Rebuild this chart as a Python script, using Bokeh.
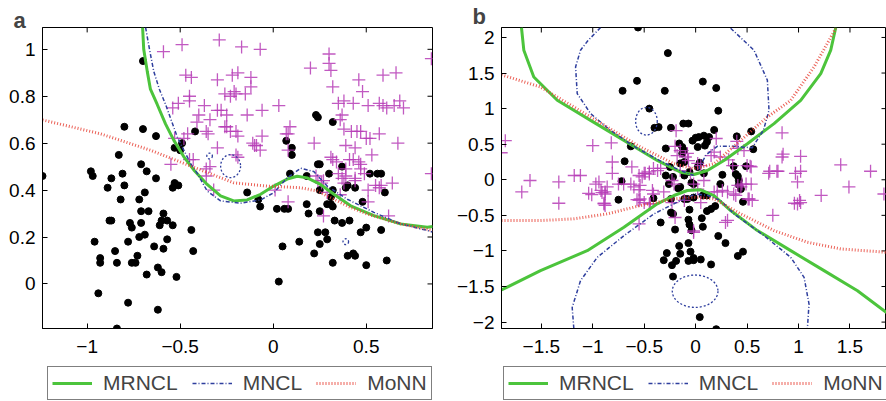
from bokeh.plotting import figure
from bokeh.models import Range1d, FixedTicker, Legend, LegendItem
from bokeh.layouts import row, column
from bokeh.embed import file_html
from bokeh.resources import INLINE

FONT = "Liberation Sans"
GREEN = "#4cc43c"
BLUE = "#2f3f9e"
RED = "#e8453a"
MAG = "#b63cb6"

# ---------------- panel a data ----------------
A_XR = (-1.24, 0.856)
A_YR = (-0.19, 1.093)
A_XTICKS = [-1, -0.5, 0, 0.5]
A_XLABELS = ["−1", "−0.5", "0", "0.5"]
A_YTICKS = [0, 0.2, 0.4, 0.6, 0.8, 1]
A_YLABELS = ["0", "0.2", "0.4", "0.6", "0.8", "1"]

A_DOT_X = [-0.80, -0.70, -0.63, -0.83, -0.71, -0.98, -0.97, -0.87, -0.81, -0.68, -0.63, -0.89, -0.80, -0.53, -0.54,
           -0.51, -0.69, -0.82, -0.72, -0.71, -0.67, -0.59, -0.88, -0.87, -0.77, -0.76, -0.71, -0.61, -0.60, -0.57,
           -0.54, -0.44, -0.72, -0.69, -0.96, -0.78, -0.57, -0.85, -0.64, -0.59, -0.43, -0.93, -0.93, -0.84, -0.76,
           -0.74, -0.73, -0.62, -0.60, -0.68, -0.52, -0.94, -0.78, -0.62, -0.84, -1.24, -0.49, -0.53, -0.50, -0.42,
           -0.70, 0.23, 0.24, 0.32, 0.07, 0.10, 0.10, 0.24, 0.25, 0.30, 0.37, 0.52, 0.56, 0.58, -0.14, 0.09, 0.18,
           0.40, 0.39, 0.44, 0.25, 0.32, 0.31, 0.29, 0.31, 0.32, 0.48, 0.60, -0.08, -0.07, 0.02, 0.06, 0.08, 0.18,
           0.19, 0.25, 0.33, 0.37, 0.41, 0.24, 0.28, 0.29, 0.47, 0.50, 0.58, 0.14, 0.05, 0.25, 0.22, 0.43, 0.44,
           0.40, 0.32, 0.50, 0.61, 0.03]
A_DOT_Y = [0.67, 0.66, 0.63, 0.55, 0.51, 0.48, 0.46, 0.45, 0.47, 0.48, 0.45, 0.41, 0.42, 0.43, 0.41,
           0.42, 0.39, 0.36, 0.36, 0.31, 0.31, 0.30, 0.27, 0.27, 0.26, 0.24, 0.26, 0.25, 0.27, 0.27,
           0.25, 0.23, 0.20, 0.21, 0.18, 0.18, 0.19, 0.14, 0.16, 0.15, 0.14, 0.11, 0.09, 0.09, 0.09,
           0.09, 0.12, 0.07, 0.05, 0.04, 0.03, -0.04, -0.08, -0.11, -0.19, 0.46, 0.60, 0.58, 0.57, 0.65,
           0.95, 0.72, 0.71, 0.69, 0.61, 0.58, 0.55, 0.51, 0.51, 0.47, 0.50, 0.47, 0.47, 0.47, 0.39, 0.47, 0.46,
           0.42, 0.41, 0.41, 0.40, 0.40, 0.37, 0.34, 0.34, 0.33, 0.35, 0.39, 0.36, 0.33, 0.32, 0.32, 0.32, 0.34,
           0.30, 0.31, 0.27, 0.26, 0.27, 0.22, 0.22, 0.19, 0.22, 0.24, 0.23, 0.18, 0.16, 0.17, 0.13, 0.13, 0.12,
           0.12, 0.09, 0.08, 0.10, 0.01]

A_PLUS_X = [-0.29, -0.49, -0.59, -0.17, -0.07, 0.30, 0.30, 0.31, 0.20, 0.32, 0.46, 0.48, 0.59, 0.66, 0.85,
            -0.47, -0.44, -0.30, -0.22, -0.19, -0.12, -0.12, -0.45, -0.45, -0.21, -0.26, -0.23, -0.20, -0.15,
            -0.51, -0.54, -0.37, -0.30, -0.28, -0.40, -0.25, -0.34, -0.14, -0.06, 0.03, 0.35, 0.38, 0.43, 0.51,
            0.57, 0.59, 0.61, 0.65, 0.68, 0.70, 0.37, 0.36, -0.41, -0.26, -0.25, 0.09, -0.46, -0.48, -0.53, -0.36,
            -0.35, -0.23, -0.20, -0.19, -0.06, 0.08, 0.38, 0.42, 0.45, 0.47, 0.50, 0.52, 0.57, 0.67, 0.22, -0.11,
            -0.10, -0.07, 0.08, -0.30, 0.39, 0.44, 0.53, 0.32, 0.34, 0.41, 0.43, 0.46, -0.20, -0.45, 0.47, 0.47,
            0.39, 0.35, 0.37, 0.44, 0.31, 0.24, 0.26, 0.07, -0.09, -0.19, -0.36, -0.36, -0.55, 0.85, 0.64, 0.58,
            0.55, 0.51, -0.34, -0.43, -0.32, 0.08, 0.01, 0.27, 0.51, 0.62, 0.38, 0.49, 0.29, 0.36, 0.23, 0.27,
            0.39, 0.44, 0.57]
A_PLUS_Y = [1.04, 1.02, 0.99, 1.01, 1.00, 0.98, 0.94, 0.91, 0.92, 0.84, 0.87, 0.82, 0.89, 0.90, 0.96,
            0.89, 0.88, 0.87, 0.89, 0.90, 0.88, 0.84, 0.80, 0.78, 0.82, 0.81, 0.80, 0.81, 0.81,
            0.77, 0.75, 0.76, 0.74, 0.74, 0.72, 0.72, 0.70, 0.72, 0.74, 0.76, 0.77, 0.78, 0.77, 0.76,
            0.77, 0.76, 0.75, 0.76, 0.78, 0.75, 0.72, 0.70, 0.69, 0.67, 0.67, 0.67, 0.64, 0.62, 0.62, 0.65,
            0.64, 0.65, 0.65, 0.63, 0.63, 0.64, 0.66, 0.65, 0.65, 0.65, 0.62, 0.62, 0.64, 0.60, 0.60, 0.60,
            0.59, 0.57, 0.57, 0.58, 0.59, 0.58, 0.55, 0.53, 0.52, 0.53, 0.53, 0.52, 0.55, 0.53, 0.51, 0.49,
            0.49, 0.47, 0.45, 0.45, 0.54, 0.44, 0.43, 0.64, 0.59, 0.54, 0.49, 0.46, 0.51, 0.47, 0.43, 0.42,
            0.42, 0.40, 0.50, 0.53, 0.40, 0.35, 0.40, 0.29, 0.35, 0.29, 0.43, 0.47, 0.39, 0.38, 0.46, 0.44,
            0.46, 0.44, 0.41]

A_MRNCL_X = [-0.702, -0.696, -0.677, -0.660, -0.624, -0.579, -0.534, -0.481, -0.427, -0.355, -0.283, -0.212,
             -0.140, -0.068, 0.003, 0.075, 0.129, 0.183, 0.254, 0.326, 0.416, 0.541, 0.684, 0.828, 0.858]
A_MRNCL_Y = [1.093, 1.000, 0.906, 0.830, 0.766, 0.682, 0.612, 0.543, 0.486, 0.424, 0.375, 0.354,
             0.358, 0.382, 0.417, 0.447, 0.459, 0.452, 0.424, 0.382, 0.333, 0.291, 0.256, 0.242, 0.245]
A_MNCL_X = [-0.686, -0.665, -0.642, -0.612, -0.579, -0.516, -0.445, -0.409, -0.355, -0.283, -0.176, -0.068,
            0.003, 0.075, 0.147, 0.218, 0.290, 0.398, 0.541, 0.684, 0.828, 0.856]
A_MNCL_Y = [1.093, 1.000, 0.906, 0.830, 0.766, 0.627, 0.514, 0.472, 0.396, 0.354, 0.344, 0.358,
            0.389, 0.452, 0.493, 0.479, 0.417, 0.361, 0.305, 0.256, 0.228, 0.221]
A_MONN_X = [-1.24, -0.929, -0.660, -0.391, -0.212, -0.032, 0.147, 0.237, 0.326, 0.416, 0.505, 0.595, 0.684, 0.858]
A_MONN_Y = [0.699, 0.640, 0.570, 0.486, 0.431, 0.417, 0.410, 0.396, 0.361, 0.326, 0.298, 0.277, 0.256, 0.228]
A_LOOP_X = [-0.229, -0.342, 0.390]
A_LOOP_Y = [0.502, 0.545, 0.180]
A_LOOP_W = [0.107, 0.030, 0.030]
A_LOOP_H = [0.098, 0.025, 0.025]

# ---------------- panel b data ----------------
B_XR = (-1.887, 1.855)
B_YR = (-2.09, 2.14)
B_XTICKS = [-1.5, -1, -0.5, 0, 0.5, 1, 1.5]
B_XLABELS = ["−1.5", "−1", "−0.5", "0", "0.5", "1", "1.5"]
B_YTICKS = [-2, -1.5, -1, -0.5, 0, 0.5, 1, 1.5, 2]
B_YLABELS = ["−2", "−1.5", "−1", "−0.5", "0", "0.5", "1", "1.5", "2"]

B_DOT_X = [-0.56, -0.27, -0.57, -0.71, -0.30, 0.07, 0.20, 0.22, -0.45, -0.40, -0.36, -0.24, -0.12, -0.07, 0.18,
           0.54, 0.40, 0.56, -0.63, -0.69, -0.72, -0.75, -0.03, 0.00, 0.03, 0.08, 0.13, 0.11, 0.09, -0.16, -0.13,
           -0.11, 0.02, -0.29, -0.13, -0.11, -0.15, 0.04, 0.02, -0.25, 0.37, 0.49, -0.29, -0.26, -0.22, -0.11,
           -0.06, 0.08, 0.26, 0.41, 0.39, -0.17, -0.15, -0.04, -0.02, 0.24, 0.42, 0.42, 0.44, 0.07, 0.09, 0.11,
           0.19, 0.46, -0.11, -0.08, -0.02, -0.24, -0.41, 0.15, 0.11, -0.06, -0.24, -0.22, -0.34, -0.07, -0.06,
           -0.04, 0.06, 0.07, -0.20, 0.22, 0.29, -0.16, -0.07, -0.28, -0.15, -0.05, -0.31, -0.23, -0.19, -0.07,
           -0.02, -0.02, 0.05, 0.15, 0.41, 0.46, -0.22, 0.04, 0.20]
B_DOT_Y = [2.14, 1.78, 1.39, 1.25, 1.25, 1.38, 1.29, 0.97, 1.00, 0.73, 0.74, 0.73, 0.79, 0.79, 0.70,
           0.68, 0.61, 0.43, 0.47, 0.26, -0.02, -0.28, 0.55, 0.59, 0.60, 0.62, 0.60, 0.53, 0.48, 0.51, 0.46,
           0.41, 0.46, 0.44, 0.37, 0.25, 0.23, 0.24, 0.18, 0.18, 0.19, 0.19, 0.06, -0.06, 0.04, 0.06,
           0.11, 0.09, 0.07, 0.05, 0.08, -0.12, -0.10, -0.04, -0.06, -0.06, -0.07, -0.01, -0.13, -0.22, -0.21, -0.22,
           -0.37, -0.31, -0.27, -0.27, -0.25, -0.27, -0.26, -0.41, -0.44, -0.42, -0.46, -0.48, -0.60, -0.56, -0.63,
           -0.71, -0.54, -0.66, -0.70, -0.79, -0.89, -0.93, -0.89, -1.03, -1.04, -1.01, -1.13, -1.20, -1.14, -1.14,
           -1.13, -1.10, -1.12, -1.19, -1.07, -1.01, -1.36, -1.93, -2.10]

B_PLUS_X = [-0.19, -0.20, 0.20, 0.40, 0.84, 0.85, 0.84, -0.82, -0.81, -0.81, -0.62, -0.55, -0.52, -0.49, -0.45,
            -0.41, -0.75, -0.63, -0.88, -0.89, -0.57, -0.42, -0.41, -0.44, -0.31, -0.23, -0.21, -0.10, -0.07, -0.08,
            -0.15, -0.05, -0.02, 0.02, 0.08, 0.02, 0.05, 0.15, 0.18, 0.24, 0.32, 0.36, 0.18, 0.21, 0.26, 0.31,
            0.37, 0.41, 0.44, 0.49, 0.52, 0.55, 0.31, 0.75, -0.02, -0.20, -0.23, 0.71, 0.79, 0.97, 0.99, 0.96,
            0.99, 0.54, 0.39, 0.05, -0.55, -0.54, 1.02, 0.54, 0.72, 0.80, 1.02, 1.41, 1.70, 1.49, 1.22, 1.02,
            0.45, 0.51, 1.83, -1.85, -1.89, -1.00, 0.50, -1.69, -1.61, -1.33, -1.18, -1.12, -0.97, -0.94, -1.04,
            -1.01, -0.91, -0.88, -0.70, -0.60, -0.54, -0.50, -0.45, -0.37, -0.34, -0.18, -0.15, 0.41, 0.47, 0.53,
            -1.33, -0.89, -0.88, -0.92, -0.86, -0.55, -0.50, -0.45, -0.55, -0.02, -0.11, 0.29, 1.01]
B_PLUS_Y = [0.69, 0.47, 0.58, 0.54, 0.66, 0.36, 0.32, 0.52, 0.25, 0.09, 0.18, 0.06, 0.04, 0.09, 0.11,
            0.16, -0.06, -0.06, -0.17, -0.33, -0.28, -0.15, -0.20, -0.34, -0.17, -0.01, -0.06, 0.32, 0.27, 0.37,
            0.13, 0.09, -0.06, -0.13, -0.01, 0.23, 0.20, 0.34, 0.39, 0.32, 0.28, 0.20, -0.17, -0.17, -0.15, -0.17,
            -0.20, -0.08, -0.10, -0.06, -0.27, -0.29, -0.57, -0.50, -0.72, -0.53, -0.32, 0.09, 0.12, 0.09, -0.03, -0.33,
            -0.34, -0.06, -0.22, -0.32, -0.14, -0.27, 0.33, 0.18, 0.12, 0.12, 0.12, 0.21, 0.12, -0.10, -0.22, -0.32,
            -0.06, -0.27, -0.20, 0.55, 0.38, 0.48, 0.20, -0.17, -0.01, -0.03, 0.06, 0.06, -0.06, -0.03, -0.19,
            -0.21, -0.18, -0.20, -0.06, -0.10, -0.08, 0.09, 0.08, 0.13, 0.16, 0.34, 0.41, 0.44, 0.41, 0.19,
            -0.33, -0.34, -0.36, -0.15, -0.10, -0.29, -0.32, -0.34, -0.62, -0.74, -0.29, -0.60, -0.29]

B_MRNCL_UP_X = [-1.693, -1.670, -1.573, -1.345, -1.021, -0.697, -0.373, -0.146, -0.016, 0.114, 0.275, 0.503,
                0.762, 1.021, 1.216, 1.313, 1.362]
B_MRNCL_UP_Y = [2.14, 1.821, 1.445, 1.117, 0.835, 0.554, 0.272, 0.107, 0.075, 0.131, 0.272, 0.507,
                0.789, 1.117, 1.493, 1.821, 2.14]
B_MRNCL_LO_X = [-1.887, -1.508, -1.054, -0.697, -0.373, -0.211, -0.081, 0.049, 0.178, 0.340, 0.600, 0.924,
                1.248, 1.573, 1.855]
B_MRNCL_LO_Y = [-1.549, -1.277, -0.996, -0.668, -0.338, -0.221, -0.151, -0.141, -0.221, -0.432, -0.714, -0.996,
                -1.277, -1.559, -1.865]
B_MNCL_TL_X = [-0.924, -1.05, -1.119, -1.167, -1.151, -1.021, -0.85, -0.60, -0.35, -0.15, -0.02]
B_MNCL_TL_Y = [2.14, 1.95, 1.821, 1.586, 1.211, 0.93, 0.72, 0.47, 0.27, 0.13, 0.06]
B_MNCL_TR_X = [0.34, 0.567, 0.697, 0.713, 0.66, 0.55, 0.37, 0.21, 0.10, 0.03]
B_MNCL_TR_Y = [2.13, 1.821, 1.40, 0.976, 0.70, 0.45, 0.47, 0.47, 0.35, 0.15]
B_MNCL_LO_X = [-1.184, -1.20, -1.119, -0.956, -0.697, -0.405, -0.211, -0.08, 0.0, 0.12, 0.243, 0.373, 0.665,
               0.924, 1.054, 1.102, 1.086]
B_MNCL_LO_Y = [-2.09, -1.794, -1.418, -1.09, -0.785, -0.479, -0.338, -0.25, -0.20, -0.22, -0.292, -0.479, -0.785,
               -1.09, -1.372, -1.746, -2.09]
B_LOOP_X = [-0.005, -0.478]
B_LOOP_Y = [-1.566, 0.823]
B_LOOP_W = [0.444, 0.21]
B_LOOP_H = [0.455, 0.39]
B_MONN_UP_X = [-1.887, -1.508, -1.184, -0.859, -0.535, -0.211, -0.016, 0.178, 0.438, 0.697, 0.924, 1.151, 1.362]
B_MONN_UP_Y = [1.475, 1.304, 1.023, 0.741, 0.459, 0.225, 0.155, 0.225, 0.554, 0.882, 1.117, 1.586, 2.127]
B_MONN_LO_X = [-1.887, -1.508, -1.184, -0.859, -0.535, -0.211, -0.016, 0.178, 0.438, 0.762, 1.086, 1.411, 1.855]
B_MONN_LO_Y = [-0.573, -0.573, -0.549, -0.479, -0.362, -0.268, -0.245, -0.268, -0.479, -0.714, -0.878, -0.972,
               -1.019]

LEGEND_LABELS = ["MRNCL", "MNCL", "MoNN"]

TICK_PX = 5  # inward tick length
MAIN_H = 366
LEG_H = 35


def style(p, xr, yr, fw, fh, xticks, xlabels, yticks, ylabels, title_standoff):
    p.grid.visible = False
    p.outline_line_color = "black"
    p.outline_line_width = 1
    p.xaxis.ticker = FixedTicker(ticks=xticks)
    p.yaxis.ticker = FixedTicker(ticks=yticks)
    p.xaxis.major_label_overrides = {t: l for t, l in zip(xticks, xlabels)}
    p.yaxis.major_label_overrides = {t: l for t, l in zip(yticks, ylabels)}
    for ax in p.axis:
        ax.major_tick_in = TICK_PX
        ax.major_tick_out = 0
        ax.minor_tick_in = 0
        ax.minor_tick_out = 0
        ax.axis_line_color = "black"
        ax.major_tick_line_color = "black"
        ax.major_label_text_font = FONT
        ax.major_label_text_font_size = "19px"
        ax.major_label_text_color = "black"
        ax.major_label_standoff = 7
    p.xaxis.major_label_standoff = 11
    # mirrored inward ticks on the top and right edges of the box
    dy = TICK_PX * (yr[1] - yr[0]) / fh
    dx = TICK_PX * (xr[1] - xr[0]) / fw
    p.segment(x0=xticks, y0=[yr[1]] * len(xticks), x1=xticks, y1=[yr[1] - dy] * len(xticks),
              line_color="black", line_width=1)
    p.segment(x0=[xr[1]] * len(yticks), y0=yticks, x1=[xr[1] - dx] * len(yticks), y1=yticks,
              line_color="black", line_width=1)
    p.title.text_font = FONT
    p.title.text_font_style = "bold"
    p.title.text_font_size = "22px"
    p.title.align = "left"
    p.title.offset = -29
    p.title.standoff = title_standoff


def legend_fig(width, loc):
    lf = figure(width=width, height=LEG_H, x_range=Range1d(0, 1), y_range=Range1d(0, 1),
                x_axis_type=None, y_axis_type=None, output_backend="svg", toolbar_location=None,
                min_border=0, outline_line_color=None)
    lf.grid.visible = False
    # sample renderers for the legend only: their points lie outside the visible range
    g = lf.line([2, 3], [2, 3], line_color=GREEN, line_width=3)
    b = lf.line([2, 3], [2, 3], line_color=BLUE, line_width=1.5, line_dash="4 2 1 2")
    r = lf.line([2, 3], [2, 3], line_color=RED, line_width=3, line_dash="1 2", line_alpha=0.85)
    items = [LegendItem(label=l, renderers=[rr]) for l, rr in zip(LEGEND_LABELS, [g, b, r])]
    lg = Legend(items=items, orientation="horizontal", location=loc)
    lg.label_text_font = FONT
    lg.label_text_font_size = "21px"
    lg.border_line_color = "black"
    lg.border_line_width = 1
    lg.padding = 4
    lg.margin = 0
    lg.spacing = 14
    lg.glyph_width = 40
    lg.label_standoff = 11
    lg.background_fill_alpha = 1
    lf.add_layout(lg)
    return lf


# ---------------- panel a ----------------
pa = figure(width=448, height=MAIN_H, x_range=Range1d(*A_XR), y_range=Range1d(*A_YR), title="a",
            output_backend="svg", toolbar_location=None,
            min_border_left=42, min_border_right=16, min_border_top=22, min_border_bottom=38)
style(pa, A_XR, A_YR, 390, 306, A_XTICKS, A_XLABELS, A_YTICKS, A_YLABELS, -10)
pa.scatter(A_DOT_X, A_DOT_Y, marker="circle", size=7, color="black")
pa.scatter(A_PLUS_X, A_PLUS_Y, marker="cross", size=13, line_color=MAG, line_alpha=0.85, line_width=1.3)
pa.line(A_MRNCL_X, A_MRNCL_Y, line_color=GREEN, line_width=3)
pa.line(A_MNCL_X, A_MNCL_Y, line_color=BLUE, line_width=1.5, line_dash="4 2 1 2")
pa.ellipse(x=A_LOOP_X, y=A_LOOP_Y, width=A_LOOP_W, height=A_LOOP_H, fill_alpha=0,
           line_color=BLUE, line_width=1.3, line_dash="2 2")
pa.line(A_MONN_X, A_MONN_Y, line_color=RED, line_width=3, line_dash="1 2", line_alpha=0.85)

# ---------------- panel b ----------------
pb = figure(width=438, height=MAIN_H, x_range=Range1d(*B_XR), y_range=Range1d(*B_YR), title="b",
            output_backend="svg", toolbar_location=None,
            min_border_left=53, min_border_right=0, min_border_top=27, min_border_bottom=38)
style(pb, B_XR, B_YR, 385, 301, B_XTICKS, B_XLABELS, B_YTICKS, B_YLABELS, -3)
pb.scatter(B_DOT_X, B_DOT_Y, marker="circle", size=7, color="black")
pb.scatter(B_PLUS_X, B_PLUS_Y, marker="cross", size=13, line_color=MAG, line_alpha=0.85, line_width=1.3)
pb.multi_line([B_MRNCL_UP_X, B_MRNCL_LO_X], [B_MRNCL_UP_Y, B_MRNCL_LO_Y], line_color=GREEN, line_width=3)
pb.multi_line([B_MNCL_TL_X, B_MNCL_TR_X, B_MNCL_LO_X], [B_MNCL_TL_Y, B_MNCL_TR_Y, B_MNCL_LO_Y],
              line_color=BLUE, line_width=1.5, line_dash="4 2 1 2")
pb.ellipse(x=B_LOOP_X, y=B_LOOP_Y, width=B_LOOP_W, height=B_LOOP_H, fill_alpha=0,
           line_color=BLUE, line_width=1.3, line_dash="2 2")
pb.multi_line([B_MONN_UP_X, B_MONN_LO_X], [B_MONN_UP_Y, B_MONN_LO_Y], line_color=RED, line_width=3,
              line_dash="1 2", line_alpha=0.85)

la = legend_fig(448, (47, 1))
lb = legend_fig(438, (55, 1))

layout = column(row(pa, pb), row(la, lb))
open("out.html", "w").write(file_html(layout, INLINE))
